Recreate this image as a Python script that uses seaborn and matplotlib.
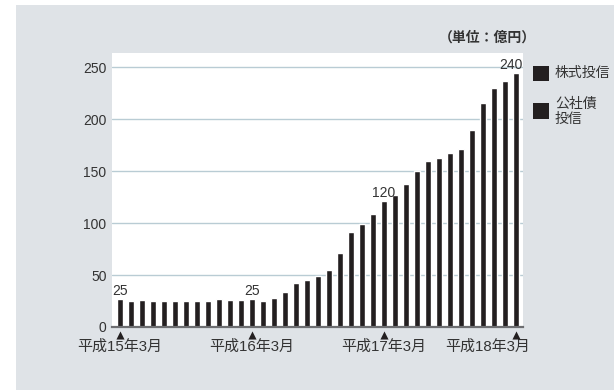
import matplotlib
matplotlib.use("Agg")
import matplotlib.pyplot as plt
import seaborn as sns
import pandas as pd
from matplotlib.patches import Rectangle

# monthly balance, 平成15年3月 .. 平成18年3月 (億円)
months = list(range(37))
values = [27, 25, 26, 25, 25, 25, 25, 25, 25, 27, 26, 26, 27, 25, 28, 34,
          42, 45, 49, 55, 71, 91, 99, 109, 121, 127, 138, 150, 160, 163,
          167, 171, 189, 215, 230, 237, 244]
tick_pos = [0, 12, 24, 36]
tick_labels = ["平成15年3月", "平成16年3月", "平成17年3月", "平成18年3月"]
bar_labels = {0: "25", 12: "25", 24: "120", 36: "240"}
legend_labels = ["株式投信", "公社債\n投信"]

df = pd.DataFrame({"month": months, "value": values})

sns.set_style("white")
plt.rcParams["font.family"] = ["Liberation Sans", "Noto Sans CJK JP"]

W, H = 614, 390
fig = plt.figure(figsize=(W / 100, H / 100), dpi=100)
fig.patch.set_facecolor("white")
fig.patches.append(Rectangle((16 / W, 0), 1 - 16 / W, 1 - 5 / H,
                             transform=fig.transFigure, facecolor="#dfe3e7",
                             edgecolor="none", zorder=-5))

ax = fig.add_axes([112 / W, (H - 327) / H, (523 - 112) / W, (327 - 53) / H])
ax.set_facecolor("white")

sns.barplot(data=df, x="month", y="value", color="#231f20", width=0.55,
            saturation=1, ax=ax, zorder=3)

ax.set_xlim(-0.73, 36.64)
ax.set_ylim(0, 263.5)
ax.set_yticks([0, 50, 100, 150, 200, 250])
ax.yaxis.grid(True, color="#b9ccd4", linewidth=1)
ax.set_axisbelow(True)
ax.tick_params(axis="y", length=0, pad=4, labelsize=10, labelcolor="#333333")
ax.set_xticks([])
ax.set_xlabel("")
ax.set_ylabel("")
for s in ["left", "right", "top"]:
    ax.spines[s].set_visible(False)
ax.spines["bottom"].set_color("#6d6e71")
ax.spines["bottom"].set_linewidth(1.6)
ax.spines["bottom"].set_zorder(5)

# value labels
for i, lab in bar_labels.items():
    dx = -0.5 if i == 36 else 0
    ax.annotate(lab, (i + dx, values[i]), xytext=(0, 1), textcoords="offset points",
                ha="center", va="bottom", fontsize=10, color="#333333")

# triangles + date labels below axis
ax.scatter(tick_pos, [-8.0] * len(tick_pos), marker="^", s=34, color="#231f20",
           linewidths=0, clip_on=False, zorder=6)
for p, lab in zip(tick_pos, tick_labels):
    x = 33.4 if p == 36 else p
    ax.text(x, -12.5, lab, ha="center", va="top", fontsize=10.8, color="#333333",
            clip_on=False)

# unit
fig.text(487 / W, 1 - 38 / H, "（単位：億円）", ha="center", va="center",
         fontsize=10, fontweight="bold", color="#333333",
         family=["Noto Sans CJK JP"])

# legend
for (y0, y1), lab, ty in zip([(66, 81), (103, 119)], legend_labels, [73, 111]):
    fig.patches.append(Rectangle((533 / W, 1 - y1 / H), 16 / W, (y1 - y0) / H,
                                 transform=fig.transFigure, facecolor="#231f20",
                                 edgecolor="none", zorder=2))
    fig.text(555 / W, 1 - ty / H, lab, ha="left", va="center", fontsize=10,
             color="#333333", linespacing=1.1)

fig.savefig("out.png", dpi=100)
